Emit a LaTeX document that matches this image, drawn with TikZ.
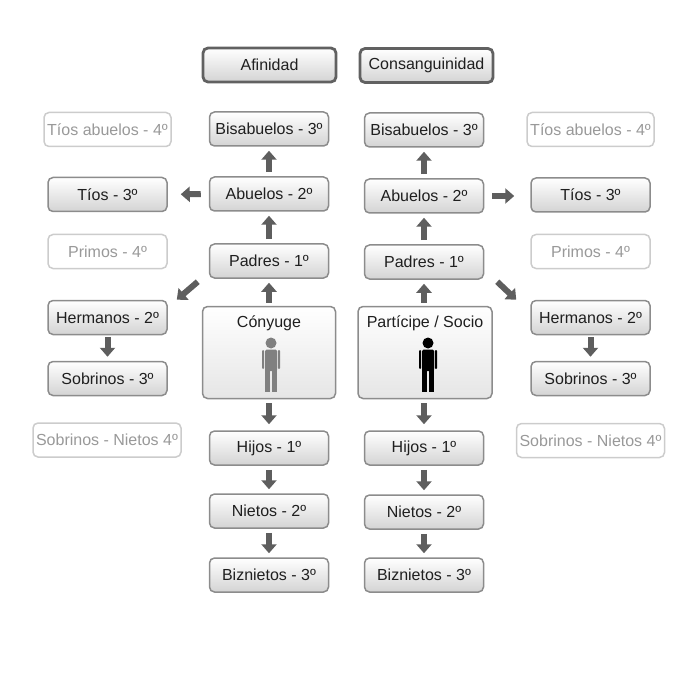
\documentclass[tikz,border=0pt]{standalone}
\usepackage{fontspec}
\setmainfont{Liberation Sans}
\usetikzlibrary{arrows.meta,positioning}
\definecolor{flechagris}{HTML}{5E5E5E}
\definecolor{bordegris}{HTML}{8C8C8C}
\definecolor{tenuegris}{HTML}{CCCCCC}
\begin{document}
\begin{tikzpicture}[x=1pt,y=-1pt,
	caja/.style={draw=bordegris,line width=1.5pt,rounded corners=5pt,top color=white,bottom color=black!17,
		minimum width=119pt,minimum height=34pt,inner sep=1pt,text=black!88,font=\fontsize{16}{18}\selectfont},
	tenue/.style={caja,draw=tenuegris,top color=white,bottom color=white,text=black!40},
	titulo/.style={caja,draw=black!62,line width=2.8pt,minimum width=133pt,minimum height=34pt},
	grande/.style={caja,minimum width=133pt,minimum height=92pt,bottom color=black!10},
	flecha/.style={draw=flechagris,line width=6pt,-{Triangle[width=15pt,length=9pt]},shorten <=4pt,shorten >=4pt}]
	\useasboundingbox (0,0) rectangle (700,700);
	% encabezados
	\node[titulo] (afin) at (269.5,65) {Afinidad};
	\node[titulo] (consang) at (426.5,65.5) {Consanguinidad};
	% columna de afinidad
	\node[caja] (bisA) at (269,129) {Bisabuelos - 3º};
	\node[caja] (abuelosA) at (269,194) {Abuelos - 2º};
	\node[caja] (padresA) at (269,261) {Padres - 1º};
	\node[grande] (cony) at (269,352.5) {};
	\node[below=6pt,font=\fontsize{16}{18}\selectfont,text=black!88] (conyT) at (cony.north) {Cónyuge};
	\node[caja] (hijosA) at (269,448) {Hijos - 1º};
	\node[caja] (nietosA) at (269,511) {Nietos - 2º};
	\node[caja] (bizA) at (269,575) {Biznietos - 3º};
	% columna de consanguinidad
	\node[caja] (bisC) at (424,130) {Bisabuelos - 3º};
	\node[caja] (abuelosC) at (424,196) {Abuelos - 2º};
	\node[caja] (padresC) at (424,262) {Padres - 1º};
	\node[grande,minimum width=134pt] (socio) at (425,352.5) {};
	\node[below=6pt,font=\fontsize{16}{18}\selectfont,text=black!88] (socioT) at (socio.north) {Partícipe / Socio};
	\node[caja] (hijosC) at (424,448) {Hijos - 1º};
	\node[caja] (nietosC) at (424,512) {Nietos - 2º};
	\node[caja] (bizC) at (424,575) {Biznietos - 3º};
	% colaterales izquierda
	\node[tenue,minimum width=127pt] (tabA) at (107.5,129.5) {Tíos abuelos - 4º};
	\node[caja] (tiosA) at (107.5,194.5) {Tíos - 3º};
	\node[tenue] (primosA) at (107.5,251.5) {Primos - 4º};
	\node[caja] (hermA) at (107.5,317.5) {Hermanos - 2º};
	\node[caja] (sobA) at (107.5,378.5) {Sobrinos - 3º};
	\node[tenue,minimum width=148pt] (snA) at (107,440) {Sobrinos - Nietos 4º};
	% colaterales derecha
	\node[tenue,minimum width=127pt] (tabC) at (590.5,129.5) {Tíos abuelos - 4º};
	\node[caja] (tiosC) at (590.5,195) {Tíos - 3º};
	\node[tenue] (primosC) at (590.5,251.5) {Primos - 4º};
	\node[caja] (hermC) at (590.5,317.5) {Hermanos - 2º};
	\node[caja] (sobC) at (590.5,378.5) {Sobrinos - 3º};
	\node[tenue,minimum width=148pt] (snC) at (590.5,440.5) {Sobrinos - Nietos 4º};
	% figuras
	\foreach \px/\col in {271/black!50, 428/black} {
		\fill[\col] (\px,343) circle[radius=5.5pt];
		\fill[\col,rounded corners=1.5pt] (\px-6,349.5) rectangle (\px+6,371);
		\fill[\col,rounded corners=1pt] (\px-9,350) rectangle (\px-6.8,369);
		\fill[\col,rounded corners=1pt] (\px+6.8,350) rectangle (\px+9,369);
		\fill[\col] (\px-6,369) rectangle (\px-0.8,392);
		\fill[\col] (\px+0.8,369) rectangle (\px+6,392);
	}
	% flechas
	\draw[flecha] (abuelosA) -- (bisA);
	\draw[flecha] (padresA) -- (abuelosA);
	\draw[flecha,shorten <=3pt] (cony) -- (padresA);
	\draw[flecha,shorten >=6pt] (cony) -- (hijosA);
	\draw[flecha] (hijosA) -- (nietosA);
	\draw[flecha] (nietosA) -- (bizA);
	\draw[flecha] (abuelosC) -- (bisC);
	\draw[flecha] (padresC) -- (abuelosC);
	\draw[flecha,shorten <=3pt] (socio.north -| padresC) -- (padresC);
	\draw[flecha,shorten >=6pt] (socio.south -| hijosC) -- (hijosC);
	\draw[flecha] (hijosC) -- (nietosC);
	\draw[flecha] (nietosC) -- (bizC);
	\draw[flecha,shorten <=8pt,shorten >=13pt] (abuelosA) -- (tiosA);
	\draw[flecha,shorten <=8pt,shorten >=16pt] (abuelosC.east) -- (abuelosC.east -| tiosC.west);
	\draw[flecha,shorten <=0pt,shorten >=0pt] ([shift={(-11,3)}]padresA.south west) -- ([shift={(9,0)}]hermA.north east);
	\draw[flecha,shorten <=0pt,shorten >=0pt] ([shift={(13,2)}]padresC.south east) -- ([shift={(-14,0)}]hermC.north west);
	\draw[flecha,shorten <=2pt] (hermA) -- (sobA);
	\draw[flecha,shorten <=2pt] (hermC) -- (sobC);
\end{tikzpicture}
\end{document}
